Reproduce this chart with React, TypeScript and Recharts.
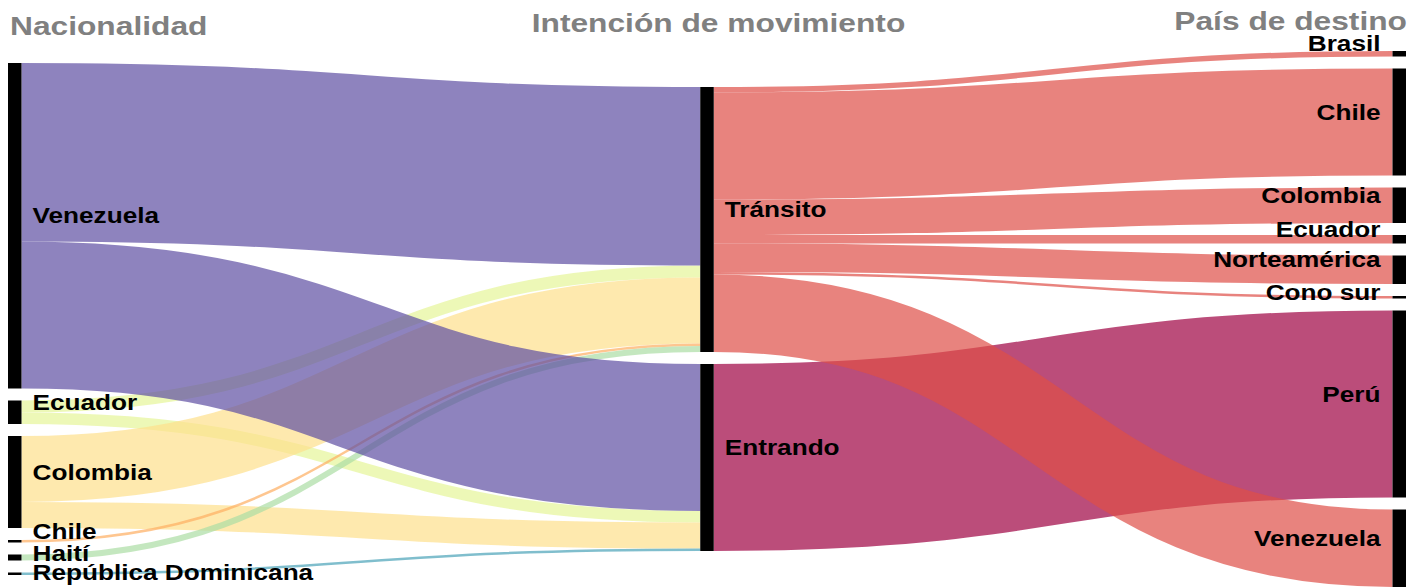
import React from 'react';
import { Sankey } from 'recharts';

// Column 1: nationality
const originNames = ['Venezuela', 'Ecuador', 'Colombia', 'Chile', 'Haití', 'República Dominicana'];
// Column 2: movement intention
const intentNames = ['Tránsito', 'Entrando'];
// Column 3: destination country
const destNames = ['Brasil', 'Chile', 'Colombia', 'Ecuador', 'Norteamérica', 'Cono sur', 'Perú', 'Venezuela'];

// flows nationality -> intention (same order as originNames)
const toTransit = [178.5, 12, 66, 2.5, 6, 0];
const toEntering = [147, 11.5, 26, 0, 0, 2.5];
// flows intention -> destination (same order as destNames)
const fromTransit = [5.5, 107, 35.5, 8.5, 28.5, 2.5, 0, 77.5];
const fromEntering = [0, 0, 0, 0, 0, 0, 187, 0];

const headers = ['Nacionalidad', 'Intención de movimiento', 'País de destino'];

// styles
const LINK_COLORS: Record<string, string> = {
  Venezuela: '#5e4fa2',
  Ecuador: '#e6f598',
  Colombia: '#fee08b',
  Chile: '#fdae61',
  'Haití': '#abdda4',
  'República Dominicana': '#4aa3b8',
  'Tránsito': '#de4f47',
  Entrando: '#9e0142',
};
const LABEL_DY: Record<string, number> = {
  '0-Haití': 6,
  '0-República Dominicana': 9,
  '2-Cono sur': 5,
};
const FONT = '"Liberation Sans", Arial, Helvetica, sans-serif';
const STRETCH = 1.19;
const HEADER_STRETCH = 1.22;

const CHART_W = 1398;
const CHART_H = 582;
const MARGIN = { top: 43, right: 0, bottom: 3, left: 0 };
const NODE_PAD = 12;
const INNER_H = CHART_H - MARGIN.top - MARGIN.bottom;

const nodes = [
  ...originNames.map((name) => ({ name })),
  ...intentNames.map((name) => ({ name })),
  ...destNames.map((name) => ({ name })),
];
const oIdx = (i: number) => i;
const iIdx = (i: number) => originNames.length + i;
const dIdx = (i: number) => originNames.length + intentNames.length + i;

const links: { source: number; target: number; value: number }[] = [];
// draw order: smaller nationalities first, Venezuela on top
const originOrder = [1, 2, 3, 4, 5, 0];
originOrder.forEach((o) => {
  if (toTransit[o] > 0) links.push({ source: oIdx(o), target: iIdx(0), value: toTransit[o] });
  if (toEntering[o] > 0) links.push({ source: oIdx(o), target: iIdx(1), value: toEntering[o] });
});
fromEntering.forEach((v, d) => {
  if (v > 0) links.push({ source: iIdx(1), target: dIdx(d), value: v });
});
fromTransit.forEach((v, d) => {
  if (v > 0) links.push({ source: iIdx(0), target: dIdx(d), value: v });
});

const data = { nodes, links };

// vertical centering of each column (library stacks columns from the top)
const sum = (a: number[]) => a.reduce((s, v) => s + v, 0);
const colSums = [
  sum(toTransit) + sum(toEntering),
  Math.max(sum(toTransit), sum(fromTransit)) + Math.max(sum(toEntering), sum(fromEntering)),
  sum(fromTransit) + sum(fromEntering),
];
const colCounts = [originNames.length, intentNames.length, destNames.length];
const ky = Math.min(...colSums.map((s, i) => (INNER_H - (colCounts[i] - 1) * NODE_PAD) / s));
const colOffset = colSums.map((s, i) => Math.max(0, (INNER_H - s * ky - (colCounts[i] - 1) * NODE_PAD) / 2));

const LinkShape = (props: any) => {
  const { sourceX, targetX, sourceY, targetY, sourceControlX, targetControlX, linkWidth, payload } = props;
  const src = payload?.source || {};
  const tgt = payload?.target || {};
  const sy = sourceY + (colOffset[src.depth] || 0);
  const ty = targetY + (colOffset[tgt.depth] || 0);
  const color = LINK_COLORS[src.name] || '#999';
  return (
    <path
      d={`M${sourceX},${sy}C${sourceControlX},${sy} ${targetControlX},${ty} ${targetX},${ty}`}
      fill="none"
      stroke={color}
      strokeOpacity={0.7}
      strokeWidth={Math.max(linkWidth, 1)}
    />
  );
};

const NodeShape = (props: any) => {
  const { x, width, height, payload } = props;
  const depth = payload?.depth ?? 0;
  const y = props.y + (colOffset[depth] || 0);
  const name = payload?.name;
  const isRight = depth === 2;
  const tx = isRight ? x - 12 : x + width + 11;
  const ty = y + height / 2 - 2.5 + (LABEL_DY[`${depth}-${name}`] || 0);
  return (
    <g>
      <rect x={x} y={y} width={width} height={Math.max(height, 1)} fill="#000" />
      <text
        transform={`translate(${tx},${ty}) scale(${STRETCH},1)`}
        x={0}
        y={0}
        textAnchor={isRight ? 'end' : 'start'}
        fontFamily={FONT}
        fontWeight="bold"
        fontSize={22}
        fill="#000"
      >
        {name}
      </text>
    </g>
  );
};

export default function App() {
  return (
    <div style={{ position: 'relative', width: CHART_W, height: CHART_H }}>
      <Sankey
        width={CHART_W}
        height={CHART_H}
        data={data}
        nodeWidth={13.5}
        nodePadding={NODE_PAD}
        iterations={0}
        sort={false}
        margin={MARGIN}
        link={<LinkShape />}
        node={<NodeShape />}
      />
      <svg
        width={1413}
        height={60}
        style={{ position: 'absolute', left: 0, top: 0, pointerEvents: 'none', overflow: 'visible' }}
      >
        <text transform={`translate(2,27) scale(${HEADER_STRETCH},1)`} fontFamily={FONT} fontWeight="bold" fontSize={26} fill="#808080" textAnchor="start">
          {headers[0]}
        </text>
        <text transform={`translate(710.5,24) scale(${HEADER_STRETCH},1)`} fontFamily={FONT} fontWeight="bold" fontSize={26} fill="#808080" textAnchor="middle">
          {headers[1]}
        </text>
        <text transform={`translate(1399,22) scale(${HEADER_STRETCH},1)`} fontFamily={FONT} fontWeight="bold" fontSize={26} fill="#808080" textAnchor="end">
          {headers[2]}
        </text>
      </svg>
    </div>
  );
}
